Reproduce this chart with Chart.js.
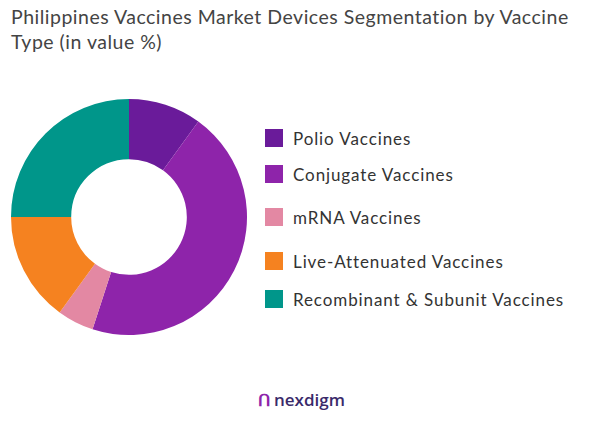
<!DOCTYPE html>
<html><head><meta charset="utf-8">
<script src="https://cdn.jsdelivr.net/npm/chart.js@4"></script>
<style>
body{margin:0;background:#fff;font-family:"Open Sans",sans-serif;width:601px;height:422px;position:relative;}
#title{position:absolute;left:11px;top:4px;font:19.5px Lato,sans-serif;color:#444;line-height:25px;letter-spacing:0.5px;}
#wrap{position:absolute;left:11px;top:99px;width:236px;height:236px;}
.li{position:absolute;left:265px;height:20px;font:17px Lato,sans-serif;color:#333;display:flex;align-items:center;letter-spacing:0.9px;}
.li i{display:inline-block;width:18px;height:18px;margin-right:10px;}
#logo{position:absolute;left:258px;top:388px;font:600 17px "Open Sans",sans-serif;color:#3a2a6a;}
#logo span{color:#8e24aa;font-weight:700;margin-right:4px;}
</style></head><body>
<div id="title">Philippines Vaccines Market Devices Segmentation by Vaccine<br>Type (in value %)</div>
<div id="wrap"><canvas id="c"></canvas></div>
<div id="leg"></div>
<div id="logo"><span>ᑎ</span>nexdigm</div>
<script>
const categories=["Polio Vaccines","Conjugate Vaccines","mRNA Vaccines","Live-Attenuated Vaccines","Recombinant & Subunit Vaccines"];
const values=[10,45,5,15,25];
const colors=["#6a1b9a","#8e24aa","#e388a3","#f58220","#00968a"];
const legendY=[138,174,217,261,299];
const leg=document.getElementById('leg');
categories.forEach((c,i)=>{const d=document.createElement('div');d.className='li';d.style.top=(legendY[i]-10)+'px';
d.innerHTML='<i style="background:'+colors[i]+'"></i>';d.appendChild(document.createTextNode(c));leg.appendChild(d);});
new Chart(document.getElementById('c'),{
type:'doughnut',
data:{labels:categories,datasets:[{data:values,backgroundColor:colors,borderWidth:0}]},
options:{responsive:true,maintainAspectRatio:false,animation:false,cutout:'49%',
layout:{padding:0},
plugins:{legend:{display:false},tooltip:{enabled:false}}}
});
</script></body></html>
